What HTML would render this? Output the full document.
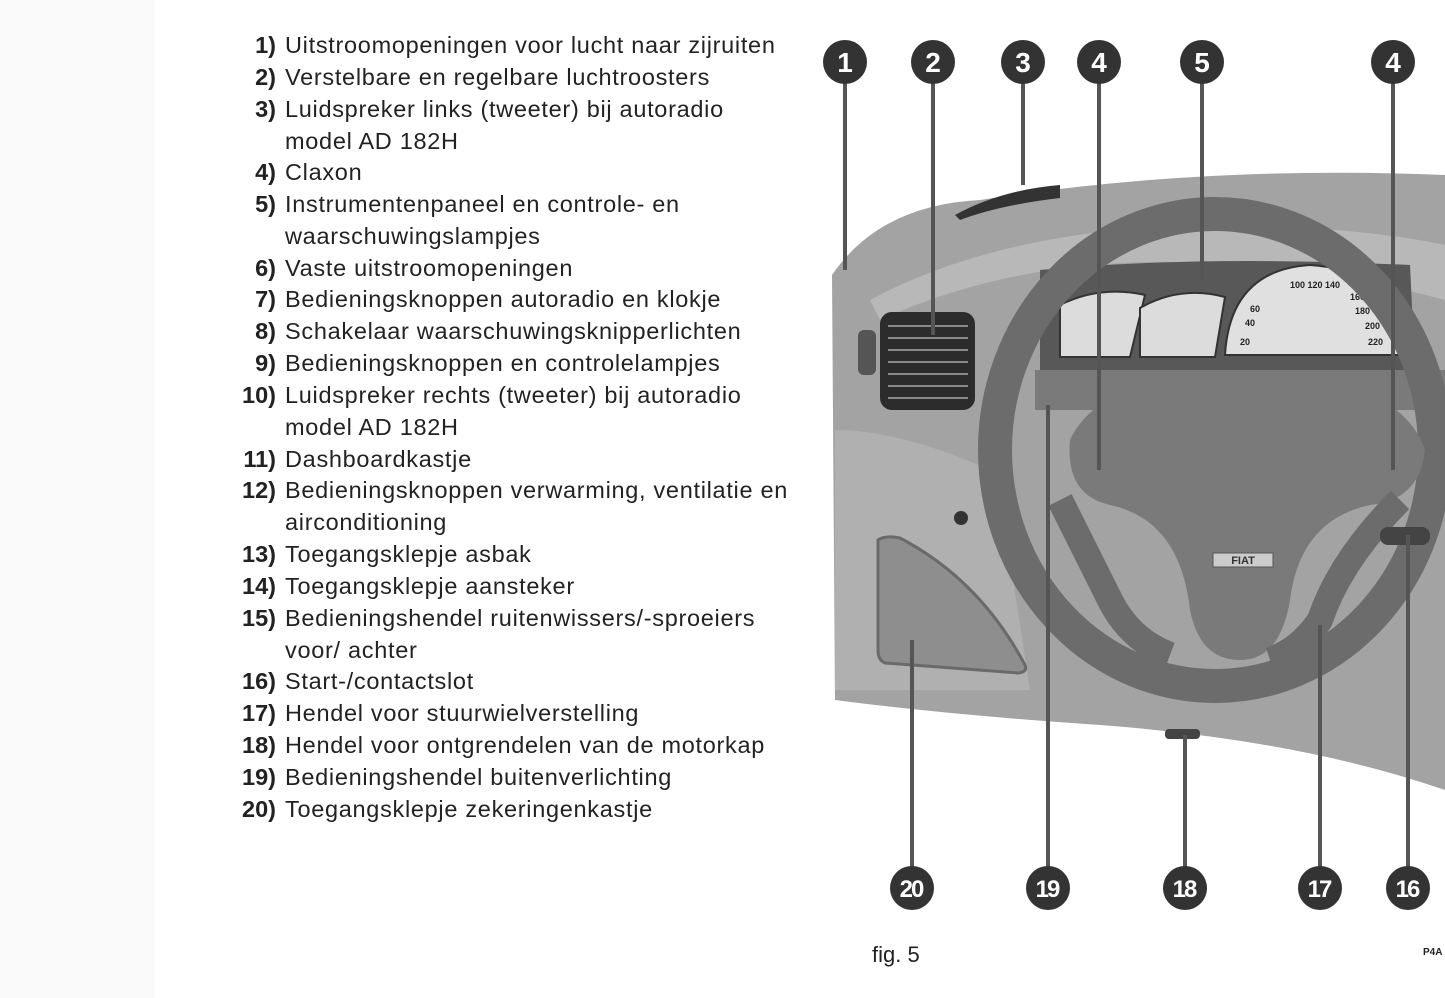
<!DOCTYPE html>
<html><head><meta charset="utf-8"><style>
html,body{margin:0;padding:0;background:#fff;}
body{width:1445px;height:998px;position:relative;overflow:hidden;font-family:"Liberation Sans",sans-serif;}
.strip{position:absolute;left:0;top:0;width:155px;height:998px;background:#fafafa;}
.l{position:absolute;font-size:23.5px;color:#222;white-space:nowrap;line-height:32px;letter-spacing:0.7px;}
.n{position:absolute;font-weight:bold;text-align:right;width:60px;letter-spacing:0;}
</style></head><body>
<div class="strip"></div>
<div style="position:absolute;left:0;top:29px;width:800px;">
<div class="l" style="top:0"><span class="n" style="left:216px">1)</span><span style="margin-left:285px">Uitstroomopeningen voor lucht naar zijruiten</span></div>
<div class="l" style="top:32px"><span class="n" style="left:216px">2)</span><span style="margin-left:285px">Verstelbare en regelbare luchtroosters</span></div>
<div class="l" style="top:64px"><span class="n" style="left:216px">3)</span><span style="margin-left:285px">Luidspreker links (tweeter) bij autoradio</span></div>
<div class="l" style="top:96px"><span style="margin-left:285px">model AD 182H</span></div>
<div class="l" style="top:127px"><span class="n" style="left:216px">4)</span><span style="margin-left:285px">Claxon</span></div>
<div class="l" style="top:159px"><span class="n" style="left:216px">5)</span><span style="margin-left:285px">Instrumentenpaneel en controle- en</span></div>
<div class="l" style="top:191px"><span style="margin-left:285px">waarschuwingslampjes</span></div>
<div class="l" style="top:223px"><span class="n" style="left:216px">6)</span><span style="margin-left:285px">Vaste uitstroomopeningen</span></div>
<div class="l" style="top:254px"><span class="n" style="left:216px">7)</span><span style="margin-left:285px">Bedieningsknoppen autoradio en klokje</span></div>
<div class="l" style="top:286px"><span class="n" style="left:216px">8)</span><span style="margin-left:285px">Schakelaar waarschuwingsknipperlichten</span></div>
<div class="l" style="top:318px"><span class="n" style="left:216px">9)</span><span style="margin-left:285px">Bedieningsknoppen en controlelampjes</span></div>
<div class="l" style="top:350px"><span class="n" style="left:216px">10)</span><span style="margin-left:285px">Luidspreker rechts (tweeter) bij autoradio</span></div>
<div class="l" style="top:382px"><span style="margin-left:285px">model AD 182H</span></div>
<div class="l" style="top:414px"><span class="n" style="left:216px">11)</span><span style="margin-left:285px">Dashboardkastje</span></div>
<div class="l" style="top:445px"><span class="n" style="left:216px">12)</span><span style="margin-left:285px">Bedieningsknoppen verwarming, ventilatie en</span></div>
<div class="l" style="top:477px"><span style="margin-left:285px">airconditioning</span></div>
<div class="l" style="top:509px"><span class="n" style="left:216px">13)</span><span style="margin-left:285px">Toegangsklepje asbak</span></div>
<div class="l" style="top:541px"><span class="n" style="left:216px">14)</span><span style="margin-left:285px">Toegangsklepje aansteker</span></div>
<div class="l" style="top:573px"><span class="n" style="left:216px">15)</span><span style="margin-left:285px">Bedieningshendel ruitenwissers/-sproeiers</span></div>
<div class="l" style="top:605px"><span style="margin-left:285px">voor/ achter</span></div>
<div class="l" style="top:636px"><span class="n" style="left:216px">16)</span><span style="margin-left:285px">Start-/contactslot</span></div>
<div class="l" style="top:668px"><span class="n" style="left:216px">17)</span><span style="margin-left:285px">Hendel voor stuurwielverstelling</span></div>
<div class="l" style="top:700px"><span class="n" style="left:216px">18)</span><span style="margin-left:285px">Hendel voor ontgrendelen van de motorkap</span></div>
<div class="l" style="top:732px"><span class="n" style="left:216px">19)</span><span style="margin-left:285px">Bedieningshendel buitenverlichting</span></div>
<div class="l" style="top:764px"><span class="n" style="left:216px">20)</span><span style="margin-left:285px">Toegangsklepje zekeringenkastje</span></div>
</div>

<svg style="position:absolute;left:0;top:0" width="1445" height="998">
<path d="M832,275 Q880,205 980,200 Q1200,165 1445,175 L1445,790 Q1300,740 1100,725 Q950,715 835,700 Z" fill="#a3a3a3"/>
<path d="M870,300 Q1000,230 1200,225 Q1350,225 1445,245 L1445,300 Q1300,260 1150,262 Q1000,265 880,320 Z" fill="#b8b8b8"/>
<path d="M835,430 Q900,430 990,470 L1010,560 L1030,690 L835,690 Z" fill="#b0b0b0"/>
<path d="M878,540 Q885,535 900,538 Q980,580 1025,665 Q1028,672 1018,673 L885,663 Q878,660 878,650 Z" fill="#8e8e8e" stroke="#6a6a6a" stroke-width="3"/>
<circle cx="961" cy="518" r="7" fill="#333"/>
<rect x="880" y="312" width="95" height="98" rx="12" fill="#2c2c2c"/>
<g stroke="#8a8a8a" stroke-width="2">
<line x1="888" y1="326" x2="968" y2="326"/><line x1="888" y1="338" x2="968" y2="338"/><line x1="888" y1="350" x2="968" y2="350"/><line x1="888" y1="362" x2="968" y2="362"/><line x1="888" y1="374" x2="968" y2="374"/><line x1="888" y1="386" x2="968" y2="386"/><line x1="888" y1="398" x2="968" y2="398"/></g>
<rect x="858" y="330" width="18" height="45" rx="6" fill="#555"/>
<path d="M955,215 Q1000,190 1060,185 L1060,198 Q1000,205 960,220 Z" fill="#333"/>
<path d="M1040,270 Q1200,255 1410,265 L1415,370 L1040,370 Z" fill="#585858"/>
<path d="M1060,305 Q1100,285 1145,295 L1130,357 L1060,357 Z" fill="#dcdcdc" stroke="#333" stroke-width="2"/>
<path d="M1140,308 Q1180,285 1225,297 L1215,357 L1140,357 Z" fill="#dcdcdc" stroke="#333" stroke-width="2"/>
<path d="M1225,355 Q1230,270 1310,265 Q1395,270 1405,355 Z" fill="#e0e0e0" stroke="#333" stroke-width="2"/>
<g font-family="Liberation Sans" font-weight="bold" font-size="9" fill="#222"><text x="1250" y="312">60</text><text x="1290" y="288">100 120 140</text><text x="1350" y="300">160</text><text x="1355" y="314">180</text><text x="1365" y="329">200</text><text x="1368" y="345">220</text><text x="1245" y="326">40</text><text x="1240" y="345">20</text></g>
<rect x="1035" y="370" width="410" height="40" fill="#7a7a7a"/>
<ellipse cx="1215" cy="450" rx="220" ry="236" fill="none" stroke="#6c6c6c" stroke-width="34"/>
<path d="M1070,440 Q1100,375 1240,370 Q1400,375 1425,450 Q1420,500 1370,505 Q1300,520 1290,600 Q1280,660 1240,660 Q1200,660 1190,610 Q1180,520 1110,505 Q1065,495 1070,440 Z" fill="#7a7a7a"/>
<path d="M1060,500 Q1090,560 1110,600 Q1130,640 1170,655" fill="none" stroke="#6c6c6c" stroke-width="26"/>
<path d="M1400,500 Q1340,560 1320,620 Q1300,650 1270,660" fill="none" stroke="#6c6c6c" stroke-width="26"/>
<rect x="1213" y="553" width="60" height="14" fill="#ccc" stroke="#555"/>
<text x="1243" y="564" font-family="Liberation Sans" font-weight="bold" font-size="11" text-anchor="middle" fill="#333">FIAT</text>
<rect x="1380" y="527" width="50" height="18" rx="8" fill="#444"/>
<rect x="1165" y="729" width="35" height="10" rx="4" fill="#444"/>
<g stroke="#555" stroke-width="4">
<line x1="845" y1="62" x2="845" y2="270"/><line x1="933" y1="62" x2="933" y2="335"/><line x1="1023" y1="62" x2="1023" y2="185"/><line x1="1099" y1="62" x2="1099" y2="470"/><line x1="1202" y1="62" x2="1202" y2="280"/><line x1="1393" y1="62" x2="1393" y2="470"/>
<line x1="912" y1="888" x2="912" y2="640"/><line x1="1048" y1="888" x2="1048" y2="405"/><line x1="1185" y1="888" x2="1185" y2="735"/><line x1="1320" y1="888" x2="1320" y2="625"/><line x1="1408" y1="888" x2="1408" y2="535"/></g>
<g fill="#333"><circle cx="845" cy="62" r="22"/><circle cx="933" cy="62" r="22"/><circle cx="1023" cy="62" r="22"/><circle cx="1099" cy="62" r="22"/><circle cx="1202" cy="62" r="22"/><circle cx="1393" cy="62" r="22"/>
<circle cx="912" cy="888" r="22"/><circle cx="1048" cy="888" r="22"/><circle cx="1185" cy="888" r="22"/><circle cx="1320" cy="888" r="22"/><circle cx="1408" cy="888" r="22"/></g>
<g font-family="Liberation Sans" font-weight="bold" font-size="28" fill="#fff" text-anchor="middle">
<text x="845" y="72">1</text><text x="933" y="72">2</text><text x="1023" y="72">3</text><text x="1099" y="72">4</text><text x="1202" y="72">5</text><text x="1393" y="72">4</text></g>
<g font-family="Liberation Sans" font-weight="bold" font-size="24" fill="#fff" text-anchor="middle" letter-spacing="-2">
<text x="911" y="897">20</text><text x="1047" y="897">19</text><text x="1184" y="897">18</text><text x="1319" y="897">17</text><text x="1407" y="897">16</text></g>
<text x="872" y="962" font-family="Liberation Sans" font-size="22" fill="#222">fig. 5</text>
<text x="1423" y="955" font-family="Liberation Sans" font-weight="bold" font-size="10" fill="#222">P4A</text>
</svg>
</body></html>
